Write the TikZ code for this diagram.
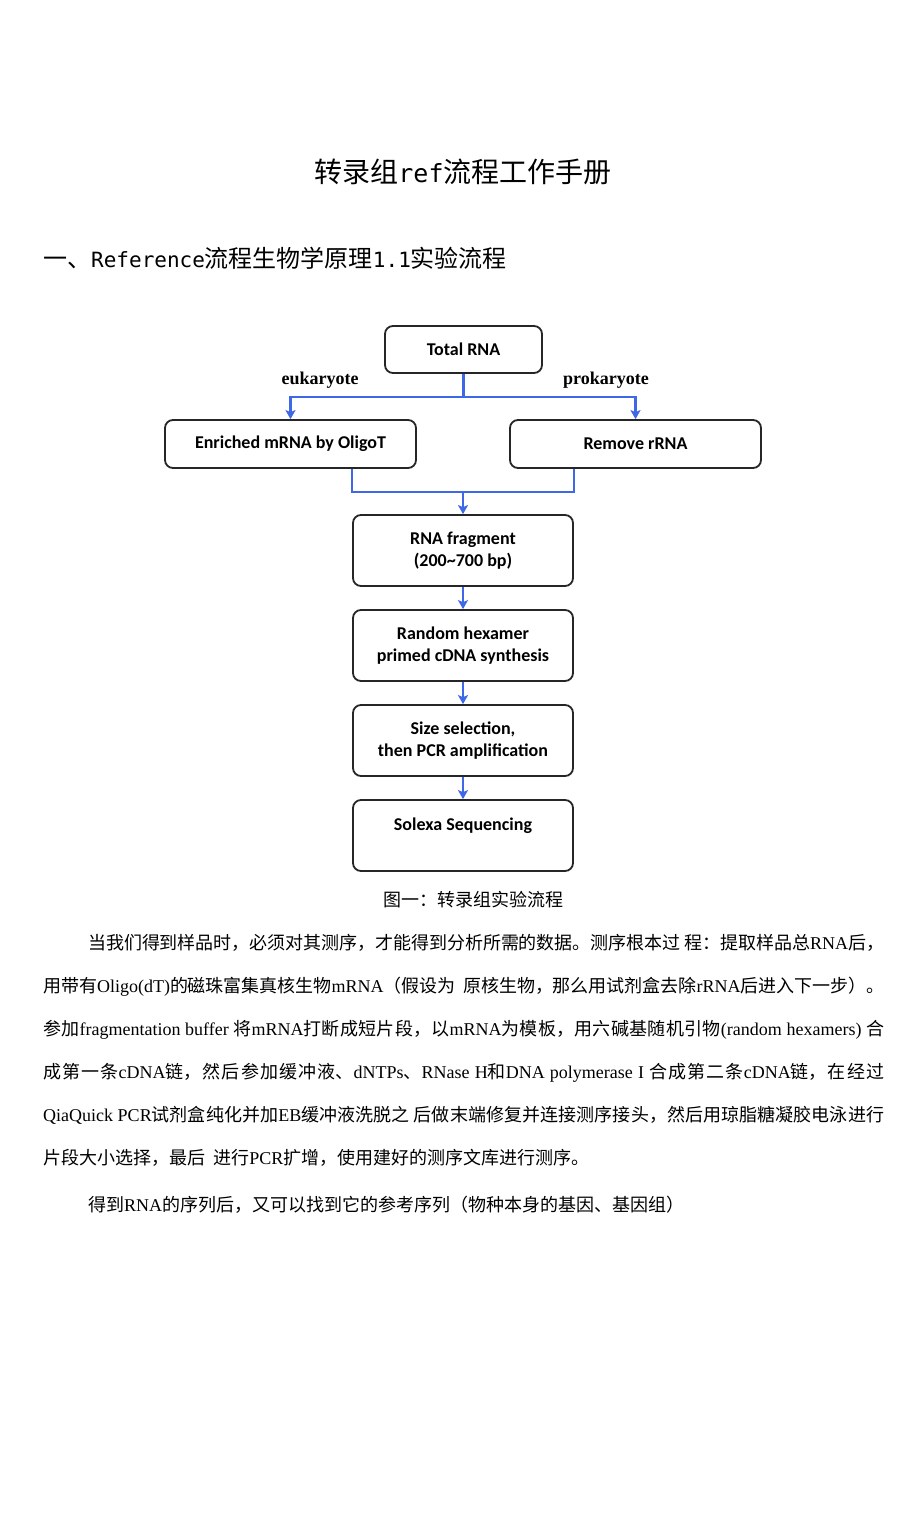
\documentclass[tikz,border=0pt]{standalone}
\usepackage{fontspec}
\usetikzlibrary{arrows.meta}
\setmainfont{Liberation Serif}
\newfontfamily\cjk{Noto Sans CJK SC}
\newfontfamily\flowfont{Carlito}
\newfontfamily\monofont{DejaVu Sans Mono}
\definecolor{flowblue}{RGB}{62,104,230}
\XeTeXlinebreaklocale "zh"
\XeTeXlinebreakskip=0pt plus 4pt minus 0.8pt
\newcommand\tm[1]{{\rmfamily #1}}
\newcommand\fullline[2]{\parbox[b]{#1}{\tolerance=10000\parfillskip=0pt\relax #2}}
\begin{document}
\begin{tikzpicture}[x=1pt,y=-1pt,
    stepbox/.style={draw=black!85, line width=1.8pt, rounded corners=8pt,
        font=\flowfont\bfseries\fontsize{18}{22}\selectfont, align=center, inner sep=0pt},
    flow/.style={draw=flowblue, line width=2.4pt},
    flowarrow/.style={flow, -{Stealth[length=9pt,width=10pt,inset=2pt]}},
    branch/.style={font=\rmfamily\bfseries\fontsize{18}{22}\selectfont},
    bodytext/.style={anchor=base west, inner sep=0pt, font=\cjk\fontsize{18}{22}\selectfont}]
\useasboundingbox[fill=white] (0,0) rectangle (920,1516);
%\tikzset{every node/.style={draw=red}}

% title and heading
\node[font=\cjk\fontsize{28}{32}\selectfont] (title) at (463,172)
    {转录组{\monofont\fontsize{25}{30}\selectfont ref}流程工作手册};
\node[anchor=west, inner sep=0pt, font=\cjk\fontsize{24}{28}\selectfont] (heading) at (43,258)
    {一、{\monofont\fontsize{21}{26}\selectfont Reference}流程生物学原理{\monofont\fontsize{21}{26}\selectfont 1.1}实验流程};

% flow chart
\node[stepbox, minimum width=157pt, minimum height=47pt] (total) at (463.5,349.5) {Total RNA};
\node[stepbox, minimum width=251pt, minimum height=48pt] (enriched) at (290.5,444) {Enriched mRNA by OligoT};
\node[stepbox, minimum width=251pt, minimum height=48pt] (remove) at (635.5,444) {Remove rRNA};
\node[stepbox, minimum width=220pt, minimum height=71pt] (fragment) at (463,550.5) {RNA fragment\\(200\textasciitilde 700 bp)};
\node[stepbox, minimum width=220pt, minimum height=71pt] (hexamer) at (463,645.5) {Random hexamer\\primed cDNA synthesis};
\node[stepbox, minimum width=220pt, minimum height=71pt] (sizesel) at (463,740.5) {Size selection,\\then PCR amplification};
\node[stepbox, minimum width=220pt, minimum height=71pt] (solexa) at (463,835.5) {Solexa Sequencing\\\mbox{}};

\node[branch] (euk) at (320,380) {eukaryote};
\node[branch] (prok) at (606,380) {prokaryote};

\coordinate (split) at (463.5,397);
\coordinate (merge) at (463,492);
\draw[flow] (total) -- (split);
\draw[flowarrow] (split) -| (enriched);
\draw[flowarrow] (split) -| (remove);
\draw[flow] (enriched.south -| fragment.west) |- (merge);
\draw[flow] (remove.south -| fragment.east) |- (merge);
\draw[flowarrow] (merge) -- (fragment);
\draw[flowarrow] (fragment) -- (hexamer);
\draw[flowarrow] (hexamer) -- (sizesel);
\draw[flowarrow] (sizesel) -- (solexa);

\node[font=\cjk\fontsize{18}{22}\selectfont] (caption) at (473,900) {图一：转录组实验流程};

% body text
\node[bodytext] (line1) at (88,949.5) {\fullline{796pt}{当我们得到样品时，必须对其测序，才能得到分析所需的数据。测序根本过 程：提取样品总\tm{RNA}后，}};
\node[bodytext] (line2) at (43,992.5) {\fullline{841pt}{用带有\tm{Oligo(dT)}的磁珠富集真核生物\tm{mRNA}（假设为\ \ 原核生物，那么用试剂盒去除\tm{rRNA}后进入下一步）。}};
\node[bodytext] (line3) at (43,1035.5) {\fullline{841pt}{参加\tm{fragmentation buffer }将\tm{mRNA}打断成短片段，以\tm{mRNA}为模板，用六碱基随机引物\tm{(random hexamers) }合}};
\node[bodytext] (line4) at (43,1078.5) {\fullline{841pt}{成第一条\tm{cDNA}链，然后参加缓冲液、\tm{dNTPs}、\tm{RNase H}和\tm{DNA polymerase I }合成第二条\tm{cDNA}链，在经过}};
\node[bodytext] (line5) at (43,1121.5) {\fullline{841pt}{\tm{QiaQuick PCR}试剂盒纯化并加\tm{EB}缓冲液洗脱之 后做末端修复并连接测序接头，然后用琼脂糖凝胶电泳进行}};
\node[bodytext] (line6) at (43,1164.5) {片段大小选择，最后\ \ 进行\tm{PCR}扩增，使用建好的测序文库进行测序。};
\node[bodytext] (line7) at (88,1211.5) {得到\tm{RNA}的序列后，又可以找到它的参考序列（物种本身的基因、基因组）};
\end{tikzpicture}
\end{document}
